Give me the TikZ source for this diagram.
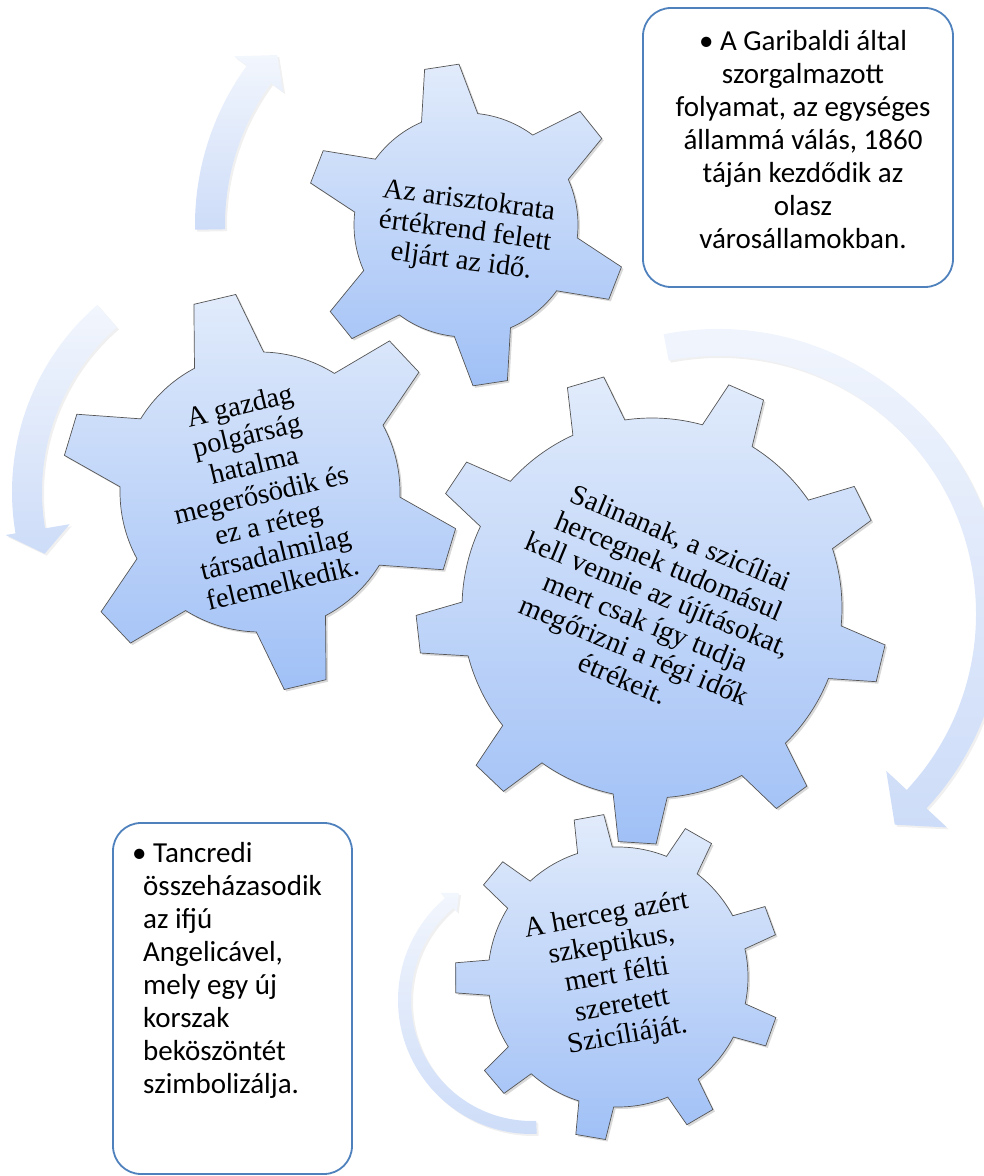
\documentclass[tikz,border=0pt]{standalone}
\usepackage{fontspec}
\setmainfont{Liberation Serif}
\newfontfamily\boxfont{Carlito}
\usetikzlibrary{shadows}
\definecolor{gtop}{RGB}{225,235,251}
\definecolor{gbot}{RGB}{160,192,246}
\definecolor{gline}{RGB}{85,85,85}
\definecolor{atop}{RGB}{242,246,253}
\definecolor{abot}{RGB}{205,220,248}
\definecolor{boxblue}{RGB}{79,129,189}
\tikzset{
  gearfill/.style={top color=gtop, bottom color=gbot, draw=gline, line width=0.7pt,
    drop shadow={opacity=0.3, shadow xshift=2pt, shadow yshift=-2pt}},
  arrowfill/.style={top color=atop, bottom color=abot, draw=none,
    drop shadow={opacity=0.12, shadow xshift=2pt, shadow yshift=-2pt}},
  geartext/.style={align=center, font=\fontsize{28.5}{30.5}\selectfont, inner sep=0pt},
  notebox/.style={draw=boxblue, line width=1.8pt, rounded corners=28pt, fill=white},
  notetext/.style={font=\boxfont\fontsize{29}{33}\selectfont, inner sep=0pt},
}
% #1 centre, #2 body radius, #3 tip radius, #4 last tooth index, #5 step, #6 first tooth angle, #7 tip half angle, #8 base half angle
\newcommand\gearshape[8]{%
  \path[gearfill, shift={#1}] ({#6-#8}:#2)
    \foreach \k in {0,...,#4}{
      -- ({#6+\k*#5-#8}:#2) -- ({#6+\k*#5-#7}:#3) -- ({#6+\k*#5+#7}:#3) -- ({#6+\k*#5+#8}:#2)
      arc[start angle={#6+\k*#5+#8}, end angle={#6+(\k+1)*#5-#8}, radius=#2]
    } -- cycle;
}
% #1 centre, #2 inner r, #3 outer r, #4 start angle, #5 end angle, #6 inner barb r, #7 outer barb r, #8 tip (polar)
\newcommand\ringarrow[8]{%
  \path[arrowfill, shift={#1}] (#4:#3) arc[start angle=#4, end angle=#5, radius=#3]
    -- (#5:#7) -- (#8) -- (#5:#6) -- (#5:#2) arc[start angle=#5, end angle=#4, radius=#2] -- cycle;
}
\begin{document}
\begin{tikzpicture}[x=1pt, y=1pt]
\useasboundingbox (0,0) rectangle (984,1176);
% circular arrows
\ringarrow{(466,951)}{241}{271}{181}{144}{226}{287}{138:254}
\ringarrow{(260,684)}{218}{248}{131}{189.6}{193}{258}{196:224}
\ringarrow{(718,562)}{258}{285}{101}{-43}{230}{313}{-50:275}
\ringarrow{(532,176)}{121}{134}{272}{130.5}{116}{141}{124.3:129.5}
% gears
\gearshape{(466,951)}{112}{161}{5}{60}{38.7}{6.2}{14.7}
\gearshape{(260,684)}{140}{199}{5}{60}{43.2}{6.2}{14.7}
\gearshape{(652,568)}{190}{236}{8}{40}{26.4}{4.6}{8.2}
\gearshape{(618,199)}{130}{163}{8}{40}{20.3}{5.3}{7.8}
% gear texts
\node[geartext, rotate=-7.5] (g1text) at (465,944) {Az arisztokrata\\értékrend felett\\eljárt az idő.};
\node[geartext, rotate=13.5] (g2text) at (261,682) {A gazdag\\polgárság\\hatalma\\megerősödik és\\ez a réteg\\társadalmilag\\felemelkedik.};
\node[geartext, rotate=-22.5] (g3text) at (652,568) {Salinanak, a szicíliai\\hercegnek tudomásul\\kell vennie az újításokat,\\mert csak így tudja\\megőrizni a régi idők\\étrékeit.};
\node[geartext, rotate=10] (g4text) at (617,200) {A herceg azért\\szkeptikus,\\mert félti\\szeretett\\Szicíliáját.};
% note boxes
\node[notebox, minimum width=310pt, minimum height=279pt] (garibaldibox) at (798,1028.5) {};
\node[notetext, align=center] (garibalditext) at (803,1036) {• A Garibaldi által\\szorgalmazott\\folyamat, az egységes\\állammá válás, 1860\\táján kezdődik az\\olasz\\városállamokban.};
\node[notebox, minimum width=239pt, minimum height=351pt] (tancredibox) at (232.5,177.5) {};
\node[notetext, align=left, anchor=west] (tancreditext) at (143,206) {\hspace*{-11pt}• Tancredi\\összeházasodik\\az ifjú\\Angelicável,\\mely egy új\\korszak\\beköszöntét\\szimbolizálja.};
\end{tikzpicture}
\end{document}
